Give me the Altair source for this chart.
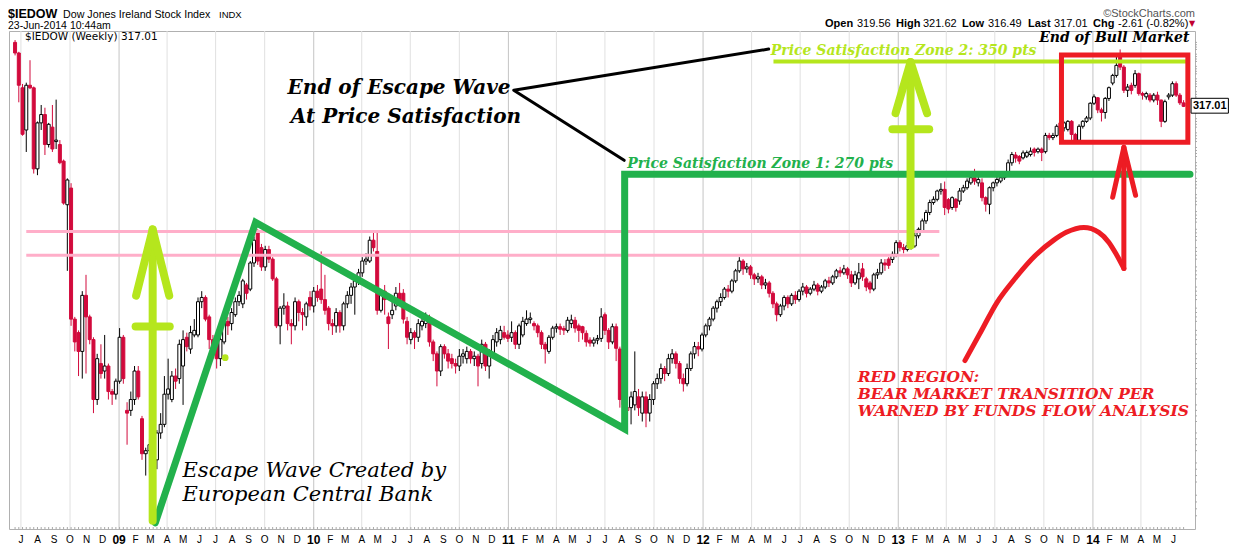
import altair as alt
import pandas as pd
from datetime import date, timedelta

# ---------------- data (weekly candles) ----------------
first_week = date(2008, 6, 20)

opens = [
    368, 359, 331, 300, 333, 331, 274, 305, 311, 290,
    302, 292, 290, 279, 252, 262, 193, 187, 179, 204,
    194, 184, 160, 174, 171, 173, 163, 162, 167, 185,
    156, 156, 160, 171, 153, 141, 142, 144, 139, 148,
    151, 162, 160, 169, 168, 173, 185, 180, 186, 186,
    201, 203, 194, 184, 184, 176, 183, 192, 191, 195,
    201, 200, 209, 207, 220, 236, 228, 218, 227, 222,
    212, 190, 198, 199, 191, 190, 201, 196, 194, 203,
    199, 206, 207, 202, 198, 191, 190, 196, 190, 200,
    204, 208, 211, 215, 221, 221, 232, 226, 197, 206,
    194, 195, 199, 205, 205, 192, 184, 187, 185, 190,
    191, 191, 183, 178, 171, 181, 178, 176, 174, 173,
    177, 176, 179, 176, 177, 174, 182, 173, 178, 183,
    184, 187, 186, 185, 187, 182, 186, 191, 192.8, 191,
    190, 187, 182, 179, 185, 189, 189.6, 188.8, 188, 191,
    192.5, 190, 189.6, 186.7, 183.8, 182.5, 183.8, 184.5, 195, 188,
    183, 189.6, 180, 160, 156, 157, 158, 161, 155, 161,
    155, 160, 166, 168, 172, 170, 176, 178, 174, 168,
    166, 172, 178, 181, 180, 186, 190, 193, 198, 201,
    203, 207, 206, 211, 216, 221, 217, 218, 214, 212,
    213, 209, 210, 205, 200, 195, 199, 203, 200, 204,
    202, 206, 208, 205, 207, 209, 206, 208, 211, 210,
    213, 216, 215, 217, 214, 210, 212, 217, 212, 210,
    207, 214, 215, 220, 222, 221.8, 224.5, 230.7, 228, 227,
    229, 228.9, 234.4, 237, 242.7, 247.5, 253.3, 255.2, 260.2, 261.2,
    255, 250.4, 255.2, 254.2, 260.2, 262.2, 265.2, 268.4, 265.2, 265.2,
    256.2, 252.3, 262.2, 265.2, 266.3, 268.4, 271.5, 277.9, 283, 282,
    281.1, 282.2, 283.3, 286.9, 285.2, 286.9, 285.2, 296.2, 294.7, 296.2,
    305, 301.5, 300.4, 306.1, 296.9, 292.9, 302.6, 306.1, 308.5, 319.3,
    323.4, 314.4, 312.5, 322.9, 334.7, 340.7, 358.6, 347.4, 329.1, 332.9,
    332.9, 342.1, 326.6, 324.1, 325.4, 321.7, 325.4, 321.7, 306.1, 324.1,
    325.4, 334.2, 325.4, 319.56,
]
highs = [
    370, 360, 334, 335, 353, 332, 306, 318, 316, 305,
    318, 322, 293, 280, 268, 265, 194, 188, 206, 214,
    195, 185, 178, 182, 186, 174, 164, 168, 189, 186,
    159, 163, 173, 173, 154, 143, 146, 146, 149, 155,
    169, 176, 171, 172, 184, 188, 187, 190, 193, 203,
    206, 204, 195, 186, 185, 185, 194, 194, 198, 203,
    206, 212, 210, 221, 234, 238, 230, 229, 229, 223,
    213, 199, 205, 201, 193, 203, 202, 198, 201, 206,
    208, 209, 226, 214, 199, 193, 198, 197, 201, 206,
    210, 213, 217, 223, 225, 234, 236, 236, 206, 209,
    196, 201, 208, 210, 207, 194, 189, 188, 193, 194,
    196, 195, 184, 179, 182, 182, 180, 178, 176, 180,
    180, 181, 180, 179, 178, 184, 183, 180, 186, 189,
    190, 190, 188, 192, 188, 191, 194, 197, 196, 192,
    191, 188, 183, 186, 190, 191, 191, 190, 194, 195,
    194, 191, 190, 188, 185, 185, 186, 198, 196, 189,
    191, 191, 181, 162, 160, 163, 179, 164, 163, 163,
    162, 167, 170, 174, 173, 178, 180, 179, 175, 170,
    174, 179, 183, 183, 187, 191, 194, 199, 202, 205,
    208, 209, 212, 217, 223, 222, 220, 219, 215, 215,
    214, 212, 211, 206, 201, 200, 204, 204, 205, 206,
    207, 210, 209, 208, 211, 210, 209, 212, 213, 214,
    217, 218, 219, 218, 216, 216, 220, 220, 213, 211,
    215, 217, 222, 222, 223, 226, 232, 232, 230, 231,
    232, 236, 239, 244, 249, 255, 257, 261, 265, 266,
    256, 257, 256, 262, 264, 268, 270, 274, 269, 268,
    257, 263, 266, 269, 270, 272, 280, 285, 285, 283,
    286, 286, 288, 288, 288, 288, 298, 298, 298, 304,
    307, 306, 307, 307, 298, 304, 307, 310, 320, 326,
    324, 316, 324, 332, 342, 356, 362, 349, 334, 335,
    345, 343, 328, 328, 327, 327, 328, 322, 322, 327,
    336, 336, 327, 321.62,
]
lows = [
    357, 320, 296, 285, 330, 271, 270, 300, 283, 288,
    285, 287, 277, 252, 216, 190, 179, 169, 168, 170,
    182, 155, 158, 168, 168, 160, 158, 160, 166, 166,
    144, 154, 158, 160, 139, 134, 135, 137, 136, 146,
    150, 160, 159, 164, 166, 158, 179, 178, 185, 185,
    198, 192, 180, 176, 172, 173, 182, 186, 188, 194,
    199, 198, 202, 206, 218, 219, 216, 216, 220, 211,
    189, 182, 195, 188, 182, 188, 192, 188, 190, 197,
    196, 201, 200, 195, 188, 186, 187, 187, 188, 198,
    200, 195, 209, 213, 219, 220, 226, 195, 196, 195,
    180, 193, 197, 200, 191, 182, 182, 180, 183, 188,
    189, 181, 175, 165, 169, 176, 172, 172, 170, 171,
    174, 174, 174, 173, 165, 172, 171, 168, 177, 181,
    182, 184, 183, 183, 180, 180, 185, 190, 191, 188,
    185, 180, 174, 178, 184, 187, 186, 186, 187, 189,
    187, 183, 184, 181, 181, 181, 182, 183, 186, 180,
    182, 175, 157, 154, 153, 151, 156, 154, 152, 150,
    152, 158, 164, 166, 167, 169, 174, 172, 166, 163,
    165, 171, 176, 177, 179, 185, 188, 192, 196, 199,
    202, 203, 205, 210, 215, 214, 215, 212, 209, 210,
    207, 207, 203, 198, 192, 194, 197, 198, 199, 200,
    201, 204, 203, 204, 206, 204, 205, 207, 208, 209,
    212, 213, 214, 212, 208, 209, 207, 211, 206, 205,
    206, 212, 214, 216, 217, 220, 223, 226, 225, 226,
    227, 228, 233, 236, 241, 246, 252, 254, 258, 246,
    247, 249, 248, 252, 259, 261, 264, 264, 263, 254,
    248, 246.5, 260, 263, 265, 267, 270, 276, 278, 277,
    280, 281, 282, 282, 284, 279, 284, 293, 293, 295,
    300, 299, 299, 293, 291, 291, 301, 305, 307, 318,
    312, 306, 308, 321, 333, 339, 345, 327, 324, 326,
    331, 325, 322, 322, 320, 320, 318, 302, 305, 322,
    324, 324, 318, 316.49,
]
closes = [
    359, 333, 297, 333, 331, 274, 305, 311, 290, 304,
    287, 293, 278, 253, 267, 193, 183, 179, 204, 194,
    184, 160, 176, 170, 173, 163, 162, 167, 185, 168,
    155, 160, 171, 161, 141, 142, 144, 139, 148, 151,
    162, 164, 169, 167, 182, 184, 181, 187, 188, 201,
    203, 193, 184, 180, 176, 184, 192, 190, 196, 201,
    204, 211, 205, 220, 232, 221, 218, 227, 222, 212,
    190, 198, 199, 191, 190, 201, 196, 195, 200, 199,
    206, 203, 202, 197, 191, 190, 196, 190, 200, 204,
    208, 211, 215, 221, 222, 232, 228, 197, 204, 202,
    191, 197, 205, 202, 193, 185, 187, 185, 191, 192,
    193, 183, 178, 171, 181, 178, 175, 174, 173, 177,
    178, 179, 176, 177, 173, 182, 173, 178, 184, 187,
    188, 185, 184.5, 187, 182, 190, 192, 193, 193.5, 190,
    187, 182, 180, 185, 189, 189.6, 188.5, 188.1, 192.5, 192.6,
    189, 188, 187, 183, 182.5, 183.8, 184.5, 194, 188, 183,
    189.6, 180.3, 160, 158, 157, 161, 163, 157, 161, 155,
    160, 166, 168, 172, 170, 176, 178, 174, 168, 166,
    172, 178, 181, 180, 186, 190, 193, 198, 201, 203,
    207, 206, 211, 216, 221, 217, 218, 214, 212, 213,
    209, 210, 205, 200, 195, 199, 203, 200, 204, 202,
    206, 208, 205, 207, 209, 206, 208, 211, 210, 213,
    216, 215, 217, 214, 210, 214, 215, 213, 208, 207,
    214, 215, 220, 219, 218.8, 224.5, 230.7, 228, 227, 229,
    230, 234.4, 238, 242.7, 247.5, 253.3, 255.2, 260.2, 261.2, 250.4,
    249.5, 256.2, 250.4, 260.2, 262.2, 266.3, 268.4, 266.3, 267.3, 256.2,
    252.3, 262.2, 265.2, 267.3, 268.4, 270.5, 277.9, 283.3, 281, 279,
    284.4, 284.6, 285.5, 284.7, 286.9, 284.7, 296.2, 294.7, 296.2, 302.6,
    301.5, 305, 306.1, 296.9, 292.9, 302.6, 306.1, 308.5, 319.3, 324.1,
    314.4, 312.5, 322.9, 331.1, 340.7, 348.8, 347.4, 329.1, 331.6, 329,
    342.1, 326.6, 325.4, 326.6, 321.7, 325.4, 321.7, 306.1, 320.5, 325.4,
    334.2, 325.4, 319.6, 317.01,
]

# y axis tick values (labelled and minor) and x axis month ticks / labels
price_ticks = list(range(120, 371, 10))
minor_price_ticks = [p for p in range(120, 371, 2) if p % 10]
month_list = [(2008, m) for m in range(7, 13)] + \
             [(y, m) for y in range(2009, 2014) for m in range(1, 13)] + \
             [(2014, m) for m in range(1, 7)]
month_letters = "JFMAMJJASOND"
quarter_list = [(y, m) for (y, m) in month_list if m in (1, 4, 7, 10)]

# annotation geometry (dates / index points)
pink_dates = ["2008-07-11", "2013-03-19"]
pink_levels = [236.8, 224.0]
green_dates = ["2009-03-10", "2009-09-14", "2011-08-07", "2011-08-07", "2014-07-02"]
green_prices = [120.0, 241.9, 149.4, 270.5, 270.5]
black_dates = ["2012-05-03", "2011-01-11", "2011-08-06"]
black_prices = [362.3, 329.2, 279.5]
zone2_dates = ["2012-05-12", "2014-07-02"]
zone2_level = 352.0
arrow1 = [
    (["2009-03-05", "2009-03-05"], [120.6, 237.9]),
    (["2009-02-02", "2009-03-05", "2009-04-05"], [203.9, 237.9, 203.9]),
    (["2009-02-01", "2009-04-06"], [189.7, 189.7]),
]
arrow2 = [
    (["2013-01-24", "2013-01-24"], [229.2, 351.5]),
    (["2012-12-27", "2013-01-24", "2013-02-24"], [312.0, 351.5, 312.0]),
    (["2012-12-21", "2013-02-28"], [300.5, 300.5]),
]
red_box = {"x1": "2013-11-03", "x2": "2014-06-28", "y1": 291.5, "y2": 357.3}
curve_dates = ["2013-05-06", "2013-06-03", "2013-07-05", "2013-08-05", "2013-09-17", "2013-10-19",
               "2013-11-12", "2013-12-15", "2014-01-12", "2014-01-31", "2014-02-13", "2014-02-28"]
curve_prices = [175.2, 186.6, 200.6, 211.2, 224.4, 231.9, 236.3, 239.0, 236.3, 230.8, 224.9, 217.2]
red_arrow = [
    (["2014-02-28", "2014-02-28"], [217.2, 288.2]),
    (["2014-02-07", "2014-02-28", "2014-03-22"], [256.4, 288.2, 257.6]),
]
dot_point = ("2009-07-19", 176.4)

# ---------------- styling ----------------
CANDLE_RED = "#d20a3c"
P_GREEN = "#22b14c"
P_LIME = "#b5e61d"
P_RED = "#ed1c24"
P_PINK = "#ffaec9"
SANS = "Liberation Sans"
SERIF = "DejaVu Serif"
PLOT_W, PLOT_H = 1186, 498

n = min(len(opens), len(highs), len(lows), len(closes))
rows = []
for i in range(n):
    o, h, l, c = opens[i], highs[i], lows[i], closes[i]
    prev = closes[i - 1] if i else o
    col = CANDLE_RED if c < prev else "#000000"
    rows.append({
        "date": (first_week + timedelta(days=7 * i)).isoformat(),
        "low": min(l, o, c), "high": max(h, o, c),
        "bot": min(o, c), "top": max(o, c),
        "col": col, "fill": "#ffffff" if c > o else col,
    })
candles = pd.DataFrame(rows)

x_scale = alt.Scale(type="utc", domain=[alt.DateTime(year=2008, month=6, date=18, utc=True),
                                        alt.DateTime(year=2014, month=7, date=2, utc=True)])
y_scale = alt.Scale(type="log", domain=[118.3, 377.9], nice=False)

Y_AXIS = alt.Axis(
    orient="right", values=price_ticks, grid=True, gridColor="#e4e4e4", gridWidth=1,
    domain=False, tickSize=3, tickColor="#9a9a9a", labelFont=SANS, labelFontSize=11,
    labelColor="#000000", labelPadding=2, labelOverlap=False, labelFlush=False, title=None,
)


def X(field="date"):
    return alt.X(f"{field}:T", scale=x_scale, axis=None)


def Y(field="price"):
    return alt.Y(f"{field}:Q", scale=y_scale, axis=None)


def segments(parts):
    out = []
    for s, (ds, ps) in enumerate(parts):
        for k, (d, p) in enumerate(zip(ds, ps)):
            out.append({"date": d, "price": p, "seg": s, "k": k})
    return pd.DataFrame(out)


def path(parts, color, width, **kw):
    style = {"strokeCap": "round", "strokeJoin": "round"}
    style.update(kw)
    return alt.Chart(segments(parts)).mark_line(
        color=color, strokeWidth=width, **style
    ).encode(x=X(), y=Y(), detail="seg:N", order="k:Q")


def note(dates, prices, labels, **kw):
    df = pd.DataFrame({"date": dates, "price": prices, "label": labels})
    return alt.Chart(df).mark_text(**kw).encode(x=X(), y=Y(), text="label:N")


one = pd.DataFrame({"a": [0]})


def header(txt, px, py, **kw):
    return alt.Chart(one).mark_text(text=txt, **kw).encode(x=alt.value(px), y=alt.value(py))


# ---------------- layers ----------------
grid_df = pd.DataFrame({
    "date": [f"{y}-{m:02d}-01" for (y, m) in quarter_list],
    "gc": ["#c4c4c4" if m == 1 else "#e0e0e0" for (y, m) in quarter_list],
})
qgrid = alt.Chart(grid_df).mark_rule(strokeWidth=1).encode(
    x=X(), color=alt.Color("gc:N", scale=None))

# small weekly ticks along the bottom edge, minor ticks on the price axis
week_ticks = alt.Chart(candles).mark_rule(strokeWidth=1, color="#a8a8a8").encode(
    x=X(), y=alt.value(PLOT_H - 2), y2=alt.value(PLOT_H))
minor_y = alt.Chart(pd.DataFrame({"price": minor_price_ticks})).mark_rule(
    strokeWidth=1, color="#a8a8a8").encode(
    y=Y(), x=alt.value(PLOT_W), x2=alt.value(PLOT_W + 2))

# x axis labels (month initials, bold two-digit years)
mlab = pd.DataFrame({
    "date": [f"{y}-{m:02d}-01" for (y, m) in month_list],
    "label": [f"{y % 100:02d}" if m == 1 else month_letters[m - 1] for (y, m) in month_list],
    "year": [m == 1 for (y, m) in month_list],
})
month_text = alt.Chart(mlab[~mlab["year"]]).mark_text(
    font=SANS, fontSize=10, color="#000000", baseline="middle", align="center").encode(
    x=X(), y=alt.value(PLOT_H + 11), text="label:N")
year_text = alt.Chart(mlab[mlab["year"]]).mark_text(
    font=SANS, fontSize=12, fontWeight="bold", color="#000000", baseline="middle", align="center").encode(
    x=X(), y=alt.value(PLOT_H + 11), text="label:N")

wicks = alt.Chart(candles).mark_rule(strokeWidth=1).encode(
    x=X(), y=alt.Y("low:Q", scale=y_scale, axis=Y_AXIS), y2="high:Q",
    color=alt.Color("col:N", scale=None))
bodies = alt.Chart(candles).mark_bar(size=3, strokeWidth=1).encode(
    x=X(), y=Y("bot"), y2="top:Q",
    fill=alt.Fill("fill:N", scale=None), stroke=alt.Stroke("col:N", scale=None))

pink = path([(pink_dates, [lv, lv]) for lv in pink_levels], P_PINK, 3, strokeCap="butt")
green = path([(green_dates, green_prices)], P_GREEN, 7, strokeJoin="miter")
blackl = path([(black_dates, black_prices)], "#000000", 3)
zone2 = path([(zone2_dates, [zone2_level, zone2_level])], P_LIME, 4, strokeCap="butt")
lime_arrows = path(arrow1 + arrow2, P_LIME, 8)

box = alt.Chart(pd.DataFrame([red_box])).mark_rect(
    fillOpacity=0, stroke=P_RED, strokeWidth=5).encode(
    x=X("x1"), x2="x2:T", y=Y("y1"), y2="y2:Q")
curve = path([(curve_dates, curve_prices)], P_RED, 5, interpolate="monotone")
rarrow = path(red_arrow, P_RED, 5)
dot = alt.Chart(pd.DataFrame({"date": [dot_point[0]], "price": [dot_point[1]]})).mark_circle(
    size=45, color=P_LIME, opacity=1).encode(x=X(), y=Y())

t_escape_end = note(["2009-11-13", "2009-11-19"], [330.7, 309.1],
                    ["End of Escape Wave", "At Price Satisfaction"],
                    font=SERIF, fontSize=20, fontStyle="italic", fontWeight="bold",
                    align="left", baseline="middle", color="#000000")
t_zone1 = note(["2011-08-12"], [277.4], ["Price Satisfaction Zone 1: 270 pts"],
               font=SERIF, fontSize=14, fontStyle="italic", fontWeight="bold",
               align="left", baseline="middle", color=P_GREEN)
t_zone2 = note(["2012-05-07"], [360.6], ["Price Satisfaction Zone 2: 350 pts"],
               font=SERIF, fontSize=14, fontStyle="italic", fontWeight="bold",
               align="left", baseline="middle", color=P_LIME)
t_bull = note(["2014-07-01"], [371.7], ["End of Bull Market"],
              font=SERIF, fontSize=14, fontStyle="italic", fontWeight="bold",
              align="right", baseline="middle", color="#000000")
t_red = note(["2012-10-17"] * 3, [168.8, 162.2, 155.9],
             ["RED REGION:", "BEAR MARKET TRANSITION PER", "WARNED BY FUNDS FLOW ANALYSIS"],
             font=SERIF, fontSize=15.5, fontStyle="italic", fontWeight="bold",
             align="left", baseline="middle", color=P_RED)
t_ecb = note(["2009-04-30", "2009-04-30"], [135.5, 128.1],
             ["Escape Wave Created by", "European Central Bank"],
             font=SERIF, fontSize=21, fontStyle="italic",
             align="left", baseline="middle", color="#000000")

last_box = alt.Chart(pd.DataFrame([{"x1": "2014-07-04", "x2": "2014-09-12", "y1": 312.0, "y2": 323.0}])).mark_rect(
    fill="#ffffff", stroke="#000000", strokeWidth=1).encode(x=X("x1"), x2="x2:T", y=Y("y1"), y2="y2:Q")
last_txt = note(["2014-08-08"], [317.01], ["317.01"], font=SANS, fontSize=11, fontWeight="bold",
                align="center", baseline="middle", color="#000000")

headers = [
    header("$IEDOW", -1, -17, font=SANS, fontSize=12.5, fontWeight="bold", align="left", baseline="middle"),
    header("Dow Jones Ireland Stock Index", 54, -16, font=SANS, fontSize=10.7, align="left", baseline="middle"),
    header("INDX", 210, -16, font=SANS, fontSize=9.5, align="left", baseline="middle"),
    header("23-Jun-2014 10:44am", -1, -5, font=SANS, fontSize=10.5, align="left", baseline="middle"),
    header("\u00a9StockCharts.com", 1186, -17, font=SANS, fontSize=11, color="#555555",
           align="right", baseline="middle"),
    header("$IEDOW (Weekly) 317.01", 16, 6, font="DejaVu Sans", fontSize=10.5, align="left",
           baseline="middle"),
]
hdr_parts = [("Open", 816, True), ("319.56", 848, False), ("High", 887, True), ("321.62", 914, False),
             ("Low", 953, True), ("316.49", 979, False), ("Last", 1019, True), ("317.01", 1045, False),
             ("Chg", 1084, True), ("-2.61 (-0.82%)", 1109, False)]
for txt, px, bold in hdr_parts:
    headers.append(header(txt, px, -7, font=SANS, fontSize=11, fontWeight="bold" if bold else "normal",
                          align="left", baseline="middle"))
headers.append(header("\u25bc", 1180, -7, font="DejaVu Sans", fontSize=8, color="#c00030",
                      align="left", baseline="middle"))

chart = alt.layer(
    qgrid, week_ticks, minor_y, wicks, bodies, pink, green, blackl, zone2, lime_arrows, box, curve,
    rarrow, dot, t_escape_end, t_zone1, t_zone2, t_bull, t_red, t_ecb, last_box, last_txt,
    month_text, year_text, *headers,
).properties(
    width=PLOT_W, height=PLOT_H,
    padding={"left": 1, "top": 23, "right": 50, "bottom": 17},
    autosize=alt.AutoSizeParams(type="none"),
    background="#ffffff",
).configure_view(stroke="#b0b0b0", strokeWidth=1)

chart.save("out.html", embed_options={"renderer": "svg", "actions": False})
